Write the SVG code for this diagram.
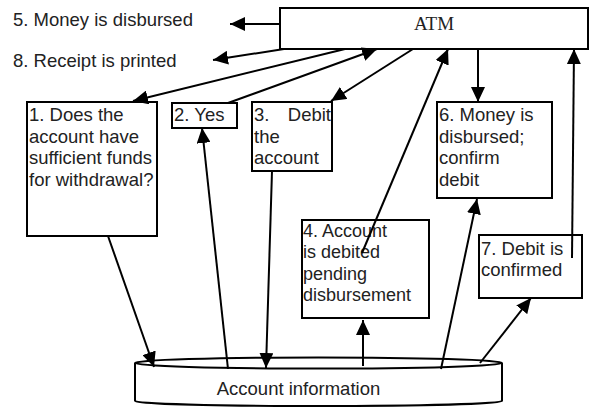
<svg xmlns="http://www.w3.org/2000/svg" width="589" height="407" viewBox="0 0 589 407">
  <style>
    .box { fill: #ffffff; stroke: #000000; stroke-width: 2; }
    .lbl { font-family: "Liberation Sans", Arial, sans-serif; font-size: 18.5px; fill: #222222; }
    .sm { font-size: 18px; }
    .atm { font-family: "Liberation Serif", "Times New Roman", serif; font-size: 19px; fill: #222222; }
    .edge { stroke: #000000; stroke-width: 2; fill: none; marker-end: url(#arrow); }
  </style>
  <defs>
    <marker id="arrow" markerUnits="userSpaceOnUse" markerWidth="16" markerHeight="14" refX="15" refY="7" orient="auto">
      <path d="M0,0 L15,7 L0,14 z" fill="#000000"/>
    </marker>
  </defs>
  <rect width="589" height="407" fill="#ffffff"/>

  <!-- outside labels -->
  <g id="label-money">
    <text class="lbl" x="13" y="26">5. Money is disbursed</text>
  </g>
  <g id="label-receipt">
    <text class="lbl" x="13" y="66.5">8. Receipt is printed</text>
  </g>

  <!-- ATM -->
  <g id="atm">
    <rect class="box" x="280" y="8" width="308" height="41"/>
    <text class="atm" x="434" y="30" text-anchor="middle">ATM</text>
  </g>

  <!-- step boxes -->
  <g id="step1">
    <rect class="box" x="27" y="102" width="130" height="134"/>
    <text class="lbl" x="29" y="121">1. Does the</text>
    <text class="lbl" x="29" y="142.5">account have</text>
    <text class="lbl" x="29" y="164">sufficient funds</text>
    <text class="lbl" x="29" y="185.5">for withdrawal?</text>
  </g>
  <g id="step2">
    <rect class="box" x="172" y="103" width="65" height="25"/>
    <text class="lbl" x="174" y="121">2. Yes</text>
  </g>
  <g id="step3">
    <rect class="box" x="252" y="102" width="80" height="69"/>
    <text class="lbl" x="254" y="121">3.</text>
    <text class="lbl" x="331" y="121" text-anchor="end">Debit</text>
    <text class="lbl" x="254" y="142.5">the</text>
    <text class="lbl" x="254" y="164">account</text>
  </g>
  <g id="step4">
    <rect class="box" x="302" y="220" width="127" height="98"/>
    <text class="lbl sm" x="303" y="236.5">4. Account</text>
    <text class="lbl sm" x="303" y="258">is debited</text>
    <text class="lbl sm" x="303" y="279.5">pending</text>
    <text class="lbl sm" x="303" y="301">disbursement</text>
  </g>
  <g id="step6">
    <rect class="box" x="437" y="102" width="115" height="96"/>
    <text class="lbl" x="439" y="121">6. Money is</text>
    <text class="lbl" x="439" y="142.5">disbursed;</text>
    <text class="lbl" x="439" y="164">confirm</text>
    <text class="lbl" x="439" y="185.5">debit</text>
  </g>
  <g id="step7">
    <rect class="box" x="479" y="235" width="103" height="63"/>
    <text class="lbl" x="481" y="255">7. Debit is</text>
    <text class="lbl" x="481" y="276">confirmed</text>
  </g>

  <!-- account store (cylinder) -->
  <g id="account-information">
    <path class="box" d="M135,363 L135,401 A183,5 0 0 0 502,401 L502,363"/>
    <ellipse class="box" cx="318.5" cy="363" rx="183.5" ry="5.5"/>
    <text class="lbl" x="298.5" y="395" text-anchor="middle">Account information</text>
  </g>

  <!-- connectors -->
  <g id="connectors">
    <line class="edge" x1="280" y1="24" x2="230" y2="24"/>
    <line class="edge" x1="284" y1="49" x2="213" y2="60"/>
    <line class="edge" x1="345" y1="49" x2="133" y2="101"/>
    <line class="edge" x1="228" y1="103" x2="377" y2="49"/>
    <line class="edge" x1="413" y1="49" x2="331" y2="101"/>
    <line class="edge" x1="362" y1="253" x2="448" y2="49"/>
    <line class="edge" x1="478" y1="49" x2="478" y2="102"/>
    <line class="edge" x1="572" y1="258" x2="574" y2="49"/>
    <line class="edge" x1="108" y1="236" x2="154" y2="367"/>
    <line class="edge" x1="228" y1="369" x2="202" y2="128"/>
    <line class="edge" x1="272" y1="171" x2="266" y2="368"/>
    <line class="edge" x1="363" y1="366" x2="363" y2="320"/>
    <line class="edge" x1="441" y1="369" x2="477" y2="199"/>
    <line class="edge" x1="480" y1="363" x2="531" y2="298"/>
  </g>
</svg>
